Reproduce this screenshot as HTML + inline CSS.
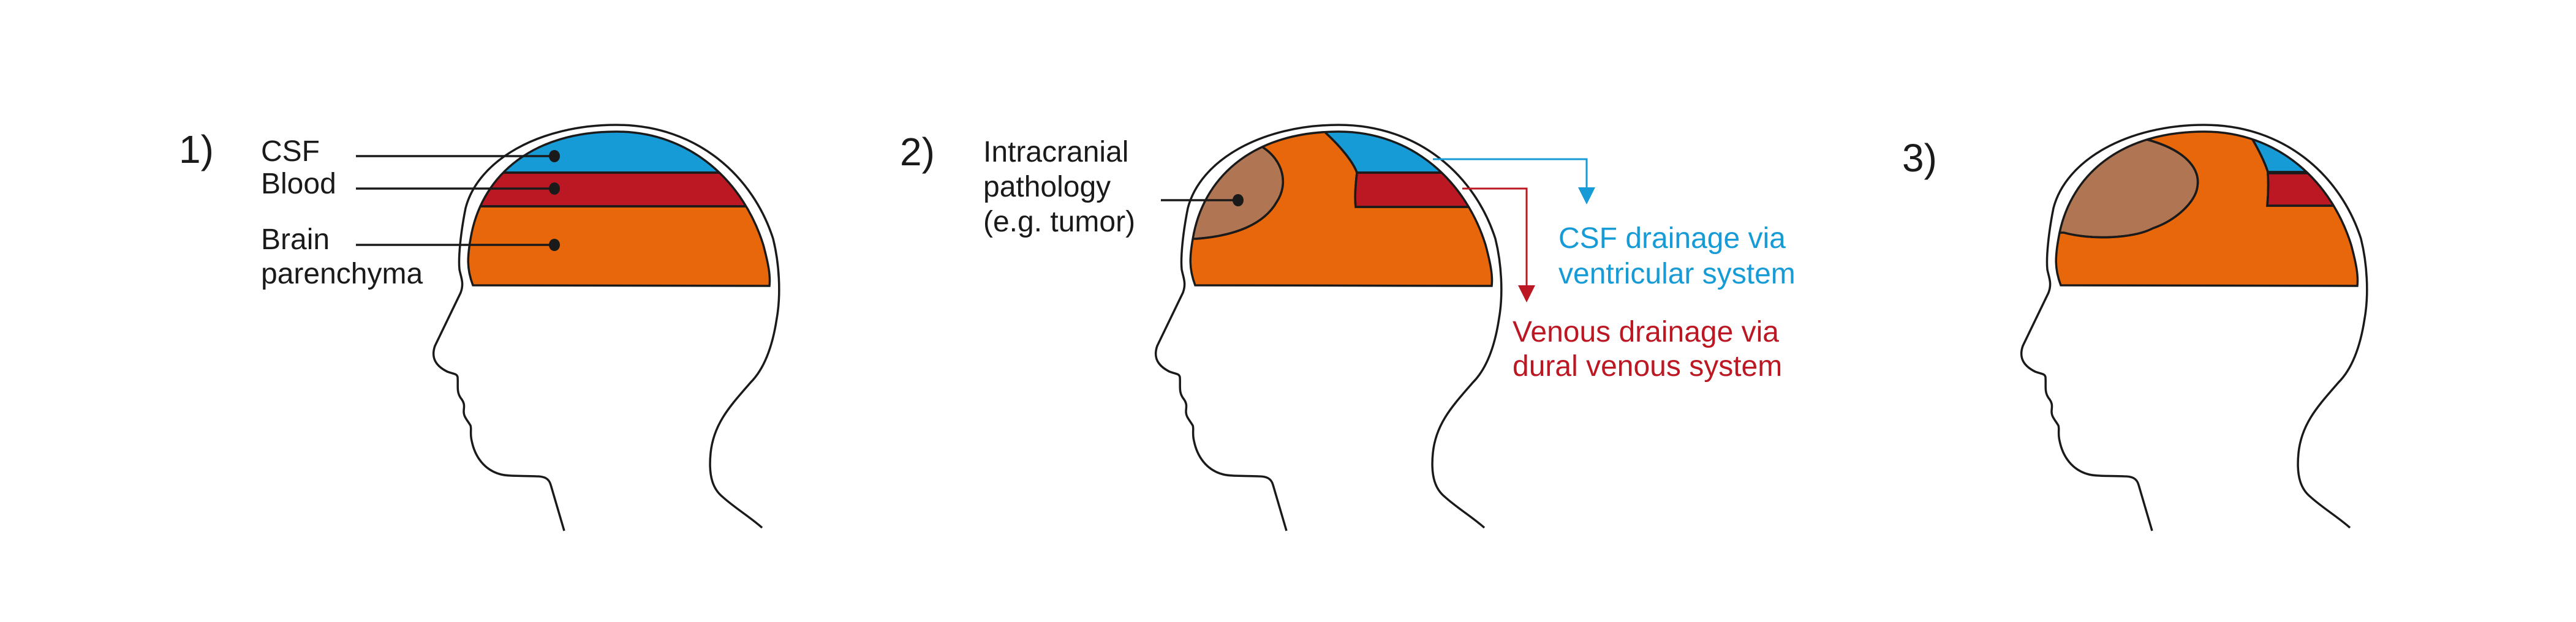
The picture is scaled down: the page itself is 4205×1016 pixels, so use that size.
<!DOCTYPE html>
<html><head><meta charset="utf-8"><style>
html,body{margin:0;padding:0;background:#fff;}
svg{display:block;}
text{font-family:"Liberation Sans",sans-serif;font-size:48px;}
</style></head><body>
<svg width="4205" height="1016" viewBox="0 0 4205 1016" xmlns="http://www.w3.org/2000/svg">
<defs>
<path id="brain" d="M772,466 C762,440 762,420 770,380 C790,285 870,215 1006,215 C1130,215 1215,300 1246,400 C1254,430 1258,450 1256,467 Z"/>
<clipPath id="bc"><use href="#brain"/></clipPath>
<path id="head" d="M921,867 L899,792 C896,781 888,778 875,778 C850,777 830,778 818,775 C790,768 775,745 770,720 C767,708 770,700 768,695 C762,685 757,681 757,672 C757,665 760,660 752,650 C745,640 748,630 747,616 C746,610 740,611 730,607 C712,598 703,585 710,565 L752,478 C758,462 752,452 750,440 C748,420 752,380 760,340 C780,262 880,204 1006,204 C1140,204 1230,290 1262,390 C1272,430 1275,480 1268,520 C1262,560 1250,600 1225,625 C1195,660 1165,690 1160,740 C1156,780 1165,800 1180,812 C1200,830 1225,845 1244,862" fill="none" stroke="#1a1a1a" stroke-width="3.5"/>
</defs>
<g fill="#1a1a1a" stroke="#1a1a1a" stroke-width="3.5">

<!-- Head 1 -->
<g>
<use href="#head"/>
<use href="#brain" fill="#e8670b" stroke="none"/>
<g clip-path="url(#bc)">
<rect x="700" y="150" width="700" height="132" fill="#179bd7"/>
<rect x="700" y="282" width="700" height="55" fill="#bb1824"/>
<line x1="700" y1="282" x2="1300" y2="282"/>
<line x1="700" y1="337" x2="1300" y2="337"/>
</g>
<use href="#brain" fill="none"/>
<line x1="581" y1="255" x2="905" y2="255"/>
<line x1="581" y1="308" x2="905" y2="308"/>
<line x1="581" y1="400" x2="905" y2="400"/>
<ellipse cx="905" cy="255" rx="9" ry="10" stroke="none"/>
<ellipse cx="905" cy="308" rx="9" ry="10" stroke="none"/>
<ellipse cx="905" cy="400" rx="9" ry="10" stroke="none"/>
<g stroke="none">
<text x="292" y="266" style="font-size:64px">1)</text>
<text x="426" y="263">CSF</text>
<text x="426" y="316">Blood</text>
<text x="426" y="407">Brain</text>
<text x="426" y="463">parenchyma</text>
</g>
</g>

<!-- Head 2 -->
<g transform="translate(1179,0)">
<use href="#head"/>
<use href="#brain" fill="#e8670b" stroke="none"/>
<g clip-path="url(#bc)">
<path d="M883,241 C915,262 925,300 905,330 C885,365 840,385 774,390 L700,390 L700,150 L870,150 Z" fill="#b07553"/>
<path d="M985,217 C1010,240 1030,265 1036,282 L1300,282 L1300,150 L960,150 Z" fill="#179bd7"/>
<path d="M1036,282 L1300,282 L1300,338 L1034,338 C1032,320 1034,300 1036,282 Z" fill="#bb1824"/>
<path d="M883,241 C915,262 925,300 905,330 C885,365 840,385 774,390" fill="none"/>
<path d="M985,217 C1010,240 1030,265 1036,282 L1300,282" fill="none"/>
<path d="M1036,282 C1034,300 1032,320 1034,338 L1300,338" fill="none"/>
</g>
<use href="#brain" fill="none"/>
<line x1="716" y1="327" x2="842" y2="327"/>
<ellipse cx="842" cy="327" rx="9" ry="10" stroke="none"/>
<g stroke="none">
<text x="290" y="270" style="font-size:64px">2)</text>
<text x="426" y="264">Intracranial</text>
<text x="426" y="321">pathology</text>
<text x="426" y="378">(e.g. tumor)</text>
</g>
<polyline points="1160,260 1411,260 1411,310" fill="none" stroke="#179bd7" stroke-width="3"/>
<polygon points="1397,306 1425,306 1411,334" fill="#179bd7" stroke="none"/>
<polyline points="1208,308 1313,308 1313,470" fill="none" stroke="#bb1824" stroke-width="3"/>
<polygon points="1299,466 1327,466 1313,494" fill="#bb1824" stroke="none"/>
<g stroke="none">
<text x="1365" y="405" fill="#179bd7">CSF drainage via</text>
<text x="1365" y="463" fill="#179bd7">ventricular system</text>
<text x="1290" y="558" fill="#bb1824">Venous drainage via</text>
<text x="1290" y="614" fill="#bb1824">dural venous system</text>
</g>
</g>

<!-- Head 3 -->
<g transform="translate(2592,0)">
<use href="#head"/>
<use href="#brain" fill="#e8670b" stroke="none"/>
<g clip-path="url(#bc)">
<path d="M913,228 C975,245 1000,275 995,305 C992,330 960,360 922,373 C890,390 820,392 777,380 L700,380 L700,150 L900,150 Z" fill="#b07553"/>
<path d="M1084,226 C1095,245 1105,265 1110,281 L1300,281 L1300,150 L1070,150 Z" fill="#179bd7"/>
<path d="M1110,283 L1300,283 L1300,336 L1109,336 C1111,315 1111,300 1110,283 Z" fill="#bb1824"/>
<path d="M913,228 C975,245 1000,275 995,305 C992,330 960,360 922,373 C890,390 820,392 777,380" fill="none"/>
<path d="M1084,226 C1095,245 1105,265 1110,281 L1300,281" fill="none"/>
<path d="M1110,283 C1111,300 1111,315 1109,336 L1300,336" fill="none"/>
</g>
<use href="#brain" fill="none"/>
<g stroke="none">
<text x="513" y="280" style="font-size:64px">3)</text>
</g>
</g>

</g>
</svg>
</body></html>
